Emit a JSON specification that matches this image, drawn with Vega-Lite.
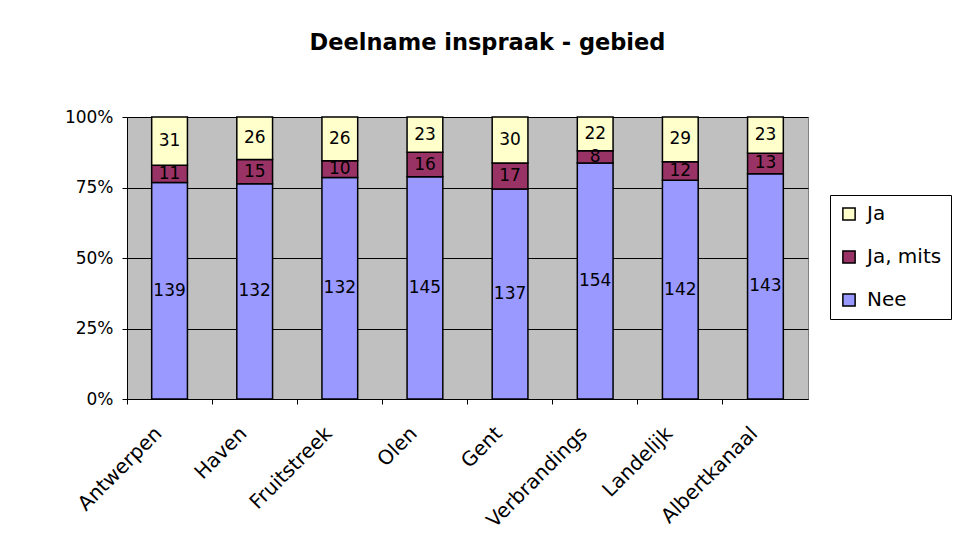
{
  "$schema": "https://vega.github.io/schema/vega-lite/v6.json",
  "autosize": {"type": "none"},
  "width": 681,
  "height": 282,
  "padding": {"left": 127, "top": 117, "right": 148, "bottom": 149},
  "background": "white",
  "title": {"text": "Deelname inspraak - gebied", "font": "DejaVu Sans", "fontSize": 22.5, "fontWeight": "bold", "color": "black", "anchor": "middle", "frame": "group", "dx": 20, "offset": 54},
  "config": {
    "view": {"fill": "#C0C0C0", "stroke": "#808080", "strokeWidth": 1},
    "font": "DejaVu Sans"
  },
  "data": {"values": [
    {"gebied": "Antwerpen", "antwoord": "Nee", "aantal": 139, "volg": 1},
    {"gebied": "Antwerpen", "antwoord": "Ja, mits", "aantal": 11, "volg": 2},
    {"gebied": "Antwerpen", "antwoord": "Ja", "aantal": 31, "volg": 3},
    {"gebied": "Haven", "antwoord": "Nee", "aantal": 132, "volg": 1},
    {"gebied": "Haven", "antwoord": "Ja, mits", "aantal": 15, "volg": 2},
    {"gebied": "Haven", "antwoord": "Ja", "aantal": 26, "volg": 3},
    {"gebied": "Fruitstreek", "antwoord": "Nee", "aantal": 132, "volg": 1},
    {"gebied": "Fruitstreek", "antwoord": "Ja, mits", "aantal": 10, "volg": 2},
    {"gebied": "Fruitstreek", "antwoord": "Ja", "aantal": 26, "volg": 3},
    {"gebied": "Olen", "antwoord": "Nee", "aantal": 145, "volg": 1},
    {"gebied": "Olen", "antwoord": "Ja, mits", "aantal": 16, "volg": 2},
    {"gebied": "Olen", "antwoord": "Ja", "aantal": 23, "volg": 3},
    {"gebied": "Gent", "antwoord": "Nee", "aantal": 137, "volg": 1},
    {"gebied": "Gent", "antwoord": "Ja, mits", "aantal": 17, "volg": 2},
    {"gebied": "Gent", "antwoord": "Ja", "aantal": 30, "volg": 3},
    {"gebied": "Verbrandings", "antwoord": "Nee", "aantal": 154, "volg": 1},
    {"gebied": "Verbrandings", "antwoord": "Ja, mits", "aantal": 8, "volg": 2},
    {"gebied": "Verbrandings", "antwoord": "Ja", "aantal": 22, "volg": 3},
    {"gebied": "Landelijk", "antwoord": "Nee", "aantal": 142, "volg": 1},
    {"gebied": "Landelijk", "antwoord": "Ja, mits", "aantal": 12, "volg": 2},
    {"gebied": "Landelijk", "antwoord": "Ja", "aantal": 29, "volg": 3},
    {"gebied": "Albertkanaal", "antwoord": "Nee", "aantal": 143, "volg": 1},
    {"gebied": "Albertkanaal", "antwoord": "Ja, mits", "aantal": 13, "volg": 2},
    {"gebied": "Albertkanaal", "antwoord": "Ja", "aantal": 23, "volg": 3}
  ]},
  "resolve": {"axis": {"x": "independent"}},
  "layer": [
    {
      "mark": {"type": "bar", "stroke": "black", "strokeWidth": 1.5},
      "encoding": {
        "x": {"field": "gebied", "type": "nominal", "sort": null,
          "scale": {"paddingInner": 0.58, "paddingOuter": 0.29},
          "axis": {"orient": "bottom", "title": null, "labels": false, "ticks": true, "bandPosition": -0.69, "tickColor": "black", "tickSize": 5, "domainColor": "black"}},
        "y": {"field": "aantal", "type": "quantitative", "stack": "normalize",
          "axis": {"title": null, "format": "%", "values": [0, 0.25, 0.5, 0.75, 1], "grid": true, "gridColor": "black", "gridOpacity": 1, "labelFontSize": 17, "labelColor": "black", "labelFont": "DejaVu Sans", "domainColor": "black", "tickColor": "black", "tickSize": 5, "labelPadding": 9}},
        "order": {"field": "volg", "type": "quantitative"},
        "color": {"field": "antwoord", "type": "nominal",
          "scale": {"domain": ["Ja", "Ja, mits", "Nee"], "range": ["#FFFFCC", "#993366", "#9999FF"]},
          "legend": {"title": null, "orient": "none", "legendX": 703, "legendY": 78, "symbolType": "square", "symbolSize": 150, "symbolStrokeColor": "black", "symbolStrokeWidth": 1.5, "labelFontSize": 20, "labelFont": "DejaVu Sans", "labelColor": "black", "rowPadding": 23, "padding": 9, "strokeColor": "black", "fillColor": "white", "labelOffset": 8, "symbolOpacity": 1}}
      }
    },
    {
      "mark": {"type": "text", "fontSize": 17, "color": "black", "font": "DejaVu Sans"},
      "encoding": {
        "x": {"field": "gebied", "type": "nominal", "sort": null,
          "axis": {"orient": "bottom", "title": null, "labelAngle": -45, "labelAlign": "right", "labelBaseline": "top", "labelFontSize": 20, "labelColor": "black", "labelFont": "DejaVu Sans", "domain": false, "ticks": false, "labelPadding": 24, "labelOffset": -18}},
        "y": {"field": "aantal", "type": "quantitative", "stack": "normalize", "bandPosition": 0.5},
        "order": {"field": "volg", "type": "quantitative"},
        "text": {"field": "aantal", "type": "quantitative"}
      }
    }
  ]
}
